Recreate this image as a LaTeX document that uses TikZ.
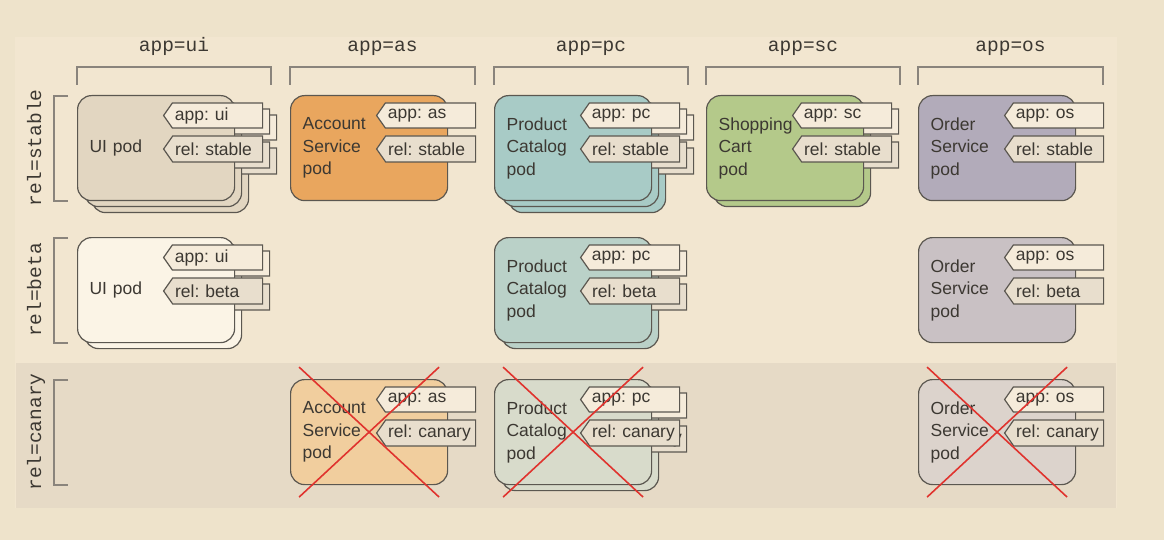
\documentclass[tikz,border=0pt]{standalone}
\usepackage{fontspec}
\setmainfont{Liberation Sans}
\setmonofont{Liberation Mono}
\usetikzlibrary{positioning,shapes.symbols}

\definecolor{outerbg}{HTML}{EEE3CB}
\definecolor{panelbg}{HTML}{F2E6D0}
\definecolor{canarybg}{HTML}{E6DAC6}
\definecolor{podline}{HTML}{5B5750}
\definecolor{ink}{HTML}{3C3832}
\definecolor{brk}{HTML}{8A847C}
\definecolor{uistable}{HTML}{E2D6C1}
\definecolor{uibeta}{HTML}{FBF4E6}
\definecolor{asstable}{HTML}{E9A65E}
\definecolor{ascanary}{HTML}{F1CE9E}
\definecolor{pcstable}{HTML}{A8CBC6}
\definecolor{pcbeta}{HTML}{BAD1C8}
\definecolor{pccanary}{HTML}{D8DBCB}
\definecolor{scstable}{HTML}{B4C98A}
\definecolor{osstable}{HTML}{B2ABBA}
\definecolor{osbeta}{HTML}{C9C1C4}
\definecolor{oscanary}{HTML}{DCD3CC}
\definecolor{appfill}{HTML}{F5EBDA}
\definecolor{relfill}{HTML}{E8DECD}
\definecolor{crossred}{HTML}{E0332E}

\frenchspacing
\newcommand\podfont{\fontsize{17.5}{22.5}\selectfont}
\newcommand\hdrfont{\ttfamily\fontsize{19.5}{22}\selectfont}

\tikzset{
  pod/.style={draw=podline, line width=1.2pt, rounded corners=14pt,
    minimum width=157pt, minimum height=105pt, text width=133pt,
    inner xsep=12pt, align=left, anchor=north west, font=\podfont, text=ink},
  tag/.style={shape=signal, signal to=west, signal pointer angle=110,
    draw=podline, line width=1.2pt, minimum width=99pt, inner xsep=1.5pt,
    inner ysep=1pt, text width=85pt, align=left, anchor=east,
    font=\podfont, text=ink},
  apptag/.style={tag, fill=appfill, minimum height=25pt},
  reltag/.style={tag, fill=relfill, minimum height=26pt},
  bracket/.style={draw=brk, line width=1.2pt},
  hdr/.style={font=\hdrfont, text=ink, anchor=base},
  cross/.style={draw=crossred, line width=1.6pt},
}

\begin{document}
\begin{tikzpicture}[x=1pt,y=-1pt]
\useasboundingbox (0,0) rectangle (1164,540);
\fill[outerbg] (0,0) rectangle (1164,540);
\fill[panelbg] (15,37) rectangle (1117,508);
\fill[canarybg] (16,363) rectangle (1116,508);

% column headers
\foreach \c/\xa/\xb in {ui/77/271, as/290/475, pc/494/688, sc/706/900, os/918/1103} {
    \draw[bracket] (\xa,85) |- (\xb,67) -- (\xb,85);
    \node[hdr] (app-\c) at ({(\xa+\xb)/2},52) {app=\c};
}

% row headers
\foreach \r/\y in {stable/96, beta/238, canary/380} {
    \draw[bracket] (68,\y) -| (54,\y+105) -- (68,\y+105);
    \node[hdr, rotate=90] (rel-\r) at (41,\y+52) {rel=\r};
}

% pods, back copies first
\foreach \c/\x/\r/\y/\n/\clr/\txt [evaluate=\n as \nb using {int(\n-1)}] in {
    ui/77/stable/95/3/uistable/{UI pod},
    as/290/stable/95/1/asstable/{Account\\Service\\pod},
    pc/494/stable/95/3/pcstable/{Product\\Catalog\\pod},
    sc/706/stable/95/2/scstable/{Shopping\\Cart\\pod},
    os/918/stable/95/1/osstable/{Order\\Service\\pod},
    ui/77/beta/237/2/uibeta/{UI pod},
    pc/494/beta/237/2/pcbeta/{Product\\Catalog\\pod},
    os/918/beta/237/1/osbeta/{Order\\Service\\pod},
    as/290/canary/379/1/ascanary/{Account\\Service\\pod},
    pc/494/canary/379/2/pccanary/{Product\\Catalog\\pod},
    os/918/canary/379/1/oscanary/{Order\\Service\\pod}} {
    \foreach \k in {\nb,...,0} {
        \node[pod, fill=\clr] (\c-\r-\k) at (\x+7*\k,\y+6*\k) {\txt};
        \node[apptag] (\c-\r-\k-app) at ([shift={(28,20.5)}]\c-\r-\k.north east) {app: \c};
        \node[reltag] (\c-\r-\k-rel) at ([shift={(28,54)}]\c-\r-\k.north east) {rel: \r};
    }
}

% canary pods are crossed out
\foreach \c in {as, pc, os} {
    \draw[cross] ([shift={(-70,-65)}]\c-canary-0.center) -- ([shift={(70,65)}]\c-canary-0.center);
    \draw[cross] ([shift={(70,-65)}]\c-canary-0.center) -- ([shift={(-70,65)}]\c-canary-0.center);
}

\end{tikzpicture}
\end{document}
